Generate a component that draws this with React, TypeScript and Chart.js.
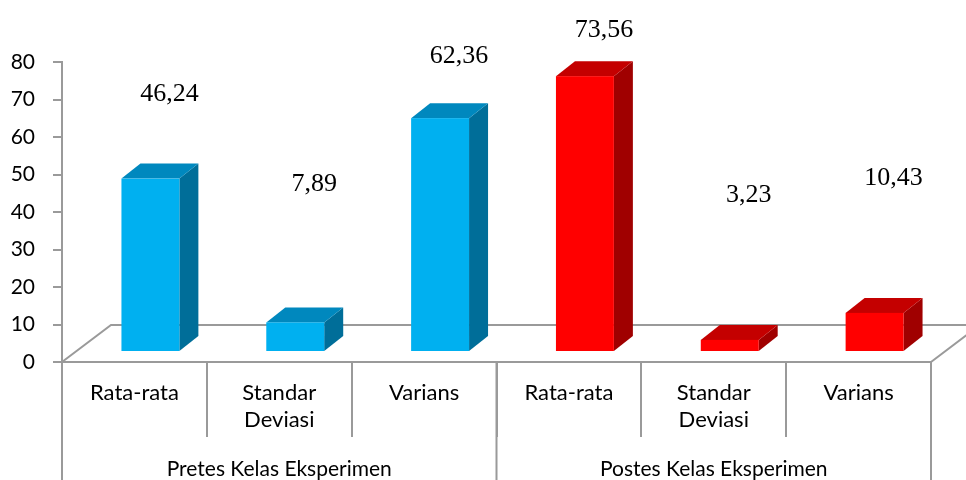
import React, { useEffect, useRef } from 'react';
import { Chart, registerables } from 'chart.js';

Chart.register(...registerables);

// ---- data ----
const groupLabels = ['Pretes Kelas Eksperimen', 'Postes Kelas Eksperimen'];
const groupSizes = [3, 3];
const categoryLabels = [['Rata-rata'], ['Standar', 'Deviasi'], ['Varians'], ['Rata-rata'], ['Standar', 'Deviasi'], ['Varians']];
const values = [46.24, 7.89, 62.36, 73.56, 3.23, 10.43];
const valueLabels = ['46,24', '7,89', '62,36', '73,56', '3,23', '10,43'];
const yMin = 0;
const yMax = 80;
const yStep = 10;

// ---- style ----
const FRONT = ['#00B0F0', '#00B0F0', '#00B0F0', '#FF0000', '#FF0000', '#FF0000'];
const TOP = ['#0088BE', '#0088BE', '#0088BE', '#C40000', '#C40000', '#C40000'];
const SIDE = ['#006E99', '#006E99', '#006E99', '#A00000', '#A00000', '#A00000'];
const LINE = '#9a9a9a';
const SANS = 'Lato, "Open Sans", sans-serif';
const SERIF = '"Liberation Serif", "Times New Roman", serif';

// 3D projection constants (pixels)
const FLOOR_DX = 49;
const FLOOR_DY = -37;
const FRONT_DX = 16;
const FRONT_DY = -10;
const BAR_DX = 19;
const BAR_DY = -15;

const threeD = {
  id: 'threeD',
  beforeDatasetsDraw(chart: any) {
    const { ctx, chartArea } = chart;
    const { left, right, bottom } = chartArea;
    ctx.save();
    ctx.strokeStyle = LINE;
    ctx.lineWidth = 2;
    ctx.beginPath();
    ctx.moveTo(left, bottom);
    ctx.lineTo(left + FLOOR_DX, bottom + FLOOR_DY);
    ctx.lineTo(right + FLOOR_DX, bottom + FLOOR_DY);
    ctx.moveTo(right, bottom);
    ctx.lineTo(right + FLOOR_DX, bottom + FLOOR_DY);
    ctx.stroke();
    ctx.restore();
  },
  afterDatasetsDraw(chart: any) {
    const { ctx } = chart;
    const meta = chart.getDatasetMeta(0);
    const yScale = chart.scales.y;
    ctx.save();
    meta.data.forEach((bar: any, i: number) => {
      const p = bar.getProps(['x', 'y', 'base', 'width'], true);
      const L = p.x - p.width / 2 + FRONT_DX;
      const R = p.x + p.width / 2 + FRONT_DX;
      const T = p.y + FRONT_DY;
      const B = p.base + FRONT_DY;
      // side
      ctx.fillStyle = SIDE[i];
      ctx.beginPath();
      ctx.moveTo(R, T);
      ctx.lineTo(R + BAR_DX, T + BAR_DY);
      ctx.lineTo(R + BAR_DX, B + BAR_DY);
      ctx.lineTo(R, B);
      ctx.closePath();
      ctx.fill();
      // top
      ctx.fillStyle = TOP[i];
      ctx.beginPath();
      ctx.moveTo(L, T);
      ctx.lineTo(R, T);
      ctx.lineTo(R + BAR_DX, T + BAR_DY);
      ctx.lineTo(L + BAR_DX, T + BAR_DY);
      ctx.closePath();
      ctx.fill();
      // front
      ctx.fillStyle = FRONT[i];
      ctx.fillRect(L, T, R - L, B - T);
    });
    // value labels
    ctx.fillStyle = '#000';
    ctx.font = `26px ${SERIF}`;
    ctx.textAlign = 'center';
    ctx.textBaseline = 'alphabetic';
    meta.data.forEach((bar: any, i: number) => {
      const p = bar.getProps(['x'], true);
      const u = 0.625 * values[i] + 40.5;
      const cy = yScale.getPixelForValue(u) + FRONT_DY;
      ctx.fillText(valueLabels[i], p.x + FRONT_DX + 19, cy + 9);
    });
    ctx.restore();
  },
  afterDraw(chart: any) {
    const { ctx } = chart;
    const xs = chart.scales.x;
    const bottom = chart.chartArea.bottom;
    const boundary = (k: number) => {
      if (k <= 0) return xs.left;
      if (k >= values.length) return xs.right;
      return (xs.getPixelForValue(k - 1) + xs.getPixelForValue(k)) / 2;
    };
    ctx.save();
    ctx.strokeStyle = LINE;
    ctx.lineWidth = 2;
    let start = 0;
    const edges = [0];
    groupSizes.forEach((n) => { start += n; edges.push(start); });
    ctx.beginPath();
    edges.forEach((k) => {
      const x = boundary(k);
      ctx.moveTo(x, bottom);
      ctx.lineTo(x, chart.height);
    });
    ctx.stroke();
    ctx.fillStyle = '#000';
    ctx.font = `21px ${SANS}`;
    ctx.textAlign = 'center';
    ctx.textBaseline = 'alphabetic';
    groupLabels.forEach((g, gi) => {
      const cx = (boundary(edges[gi]) + boundary(edges[gi + 1])) / 2;
      ctx.fillText(g, cx, 476);
    });
    ctx.restore();
  },
};

export default function App() {
  const ref = useRef<HTMLCanvasElement | null>(null);
  useEffect(() => {
    if (!ref.current) return;
    const chart = new Chart(ref.current, {
      type: 'bar',
      data: {
        labels: categoryLabels,
        datasets: [
          {
            data: values,
            backgroundColor: 'rgba(0,0,0,0)',
            borderWidth: 0,
            barPercentage: 0.4,
            categoryPercentage: 1,
          },
        ],
      },
      options: {
        animation: false,
        responsive: false,
        devicePixelRatio: 1,
        layout: { padding: { top: 62, right: 35, left: 0, bottom: 0 } },
        plugins: { legend: { display: false }, tooltip: { enabled: false }, title: { display: false } },
        scales: {
          x: {
            grid: { offset: true, drawOnChartArea: false, tickLength: 75, color: LINE, lineWidth: 2 },
            border: { display: true, color: LINE, width: 2 },
            ticks: {
              autoSkip: false,
              maxRotation: 0,
              minRotation: 0,
              padding: -58,
              color: '#000',
              font: { family: SANS, size: 22, lineHeight: 1.25 },
            },
            afterFit: (s: any) => { s.height = 118; },
          },
          y: {
            min: yMin,
            max: yMax,
            grid: { drawOnChartArea: false, tickLength: 9, color: LINE, lineWidth: 2 },
            border: { display: true, color: LINE, width: 2 },
            ticks: {
              stepSize: yStep,
              padding: 18,
              color: '#000',
              font: { family: SANS, size: 21 },
            },
            afterFit: (s: any) => { s.width = 62; },
          },
        },
      },
      plugins: [threeD],
    });
    return () => chart.destroy();
  }, []);
  return (
    <div style={{ position: 'absolute', left: 0, top: 0, width: 966, height: 480, background: '#fff' }}>
      <canvas ref={ref} width={966} height={480} />
    </div>
  );
}
